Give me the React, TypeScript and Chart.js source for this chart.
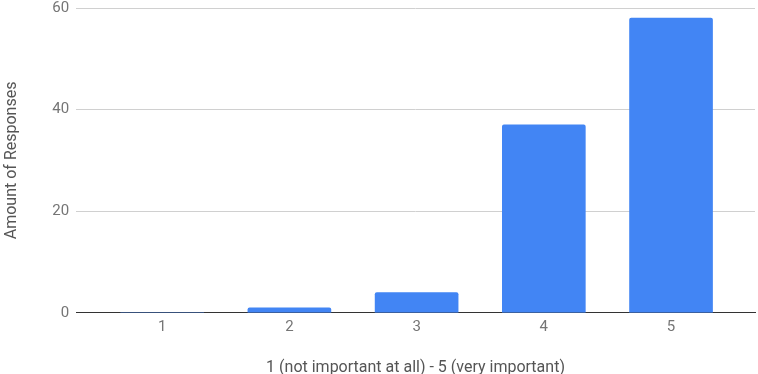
import React, { useEffect, useRef } from "react";
import { Chart, registerables } from "chart.js";

Chart.register(...registerables);

const categories = [1, 2, 3, 4, 5];
const responses = [0, 1, 4, 37, 58];
const yTicks = [0, 20, 40, 60];
const xTitle = "1 (not important at all) - 5 (very important)";
const yTitle = "Amount of Responses";

export default function App() {
  const ref = useRef<HTMLCanvasElement | null>(null);
  useEffect(() => {
    if (!ref.current) return;
    const chart = new Chart(ref.current, {
      type: "bar",
      data: {
        datasets: [
          {
            data: categories.map((c, i) => ({ x: c, y: responses[i] })),
            backgroundColor: "#4285f4",
            borderRadius: 2,
            borderSkipped: "bottom",
            barThickness: 83,
          },
        ],
      },
      options: {
        animation: false,
        responsive: true,
        maintainAspectRatio: false,
        layout: { padding: { top: 0, right: 3, bottom: -4, left: 2 } },
        plugins: { legend: { display: false }, tooltip: { enabled: false } },
        scales: {
          x: {
            type: "linear",
            min: 0.323,
            max: 5.66,
            offset: false,
            z: 1,
            afterBuildTicks: (scale: any) => {
              scale.ticks = categories.map((v) => ({ value: v }));
            },
            grid: { display: false, drawTicks: false },
            border: { display: true, color: "#333", width: 1 },
            ticks: {
              color: "#757575",
              font: { family: "Roboto", size: 15 },
              padding: 5,
              autoSkip: false,
              maxRotation: 0,
            },
            title: {
              display: true,
              text: xTitle,
              color: "#555",
              font: { family: "Roboto", size: 16 },
              padding: { top: 18, bottom: 0 },
            },
          },
          y: {
            min: 0,
            max: 60,
            afterBuildTicks: (scale: any) => {
              scale.ticks = yTicks.map((v) => ({ value: v }));
            },
            afterFit: (scale: any) => {
              scale.paddingTop = 8;
            },
            grid: { color: "#d0d0d0", drawTicks: false },
            border: { display: false },
            ticks: {
              color: "#757575",
              font: { family: "Roboto", size: 15 },
              padding: 7,
            },
            title: {
              display: true,
              text: yTitle,
              color: "#555",
              font: { family: "Roboto", size: 16 },
              padding: { top: 0, bottom: 24 },
            },
          },
        },
      },
    });
    return () => chart.destroy();
  }, []);
  return (
    <div style={{ position: "fixed", left: 0, top: 0, width: 758, height: 374, background: "#fff" }}>
      <canvas ref={ref} />
    </div>
  );
}
